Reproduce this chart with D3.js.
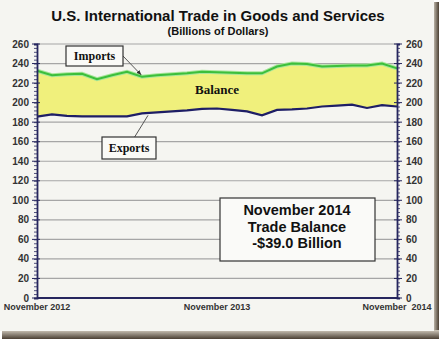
<!DOCTYPE html>
<html><head><meta charset="utf-8">
<script src="https://cdn.jsdelivr.net/npm/d3@7"></script>
<style>body{margin:0;background:#fff}svg{display:block}</style>
</head><body><svg id="c" width="439" height="339"></svg>
<script>
const months = ["2012-11","2012-12","2013-01","2013-02","2013-03","2013-04","2013-05","2013-06","2013-07","2013-08","2013-09","2013-10","2013-11","2013-12","2014-01","2014-02","2014-03","2014-04","2014-05","2014-06","2014-07","2014-08","2014-09","2014-10","2014-11"];
const imports = [232.6,228,229,229.5,224,228,231.5,226.5,228,229,230,231.5,231,230.5,230,230,237,240,239.5,237,237.5,238,238,240,235];
const exports_ = [185.6,188,186.5,186,186,186,186,189,190,191,192,193.5,194,192.5,191,187,192.5,193,194,196,197,198,194.5,197.5,196];
const yTicks = [0,20,40,60,80,100,120,140,160,180,200,220,240,260];
const xLabels = [{i:0,t:"November 2012"},{i:12,t:"November 2013"},{i:24,t:"November  2014"}];
const title = "U.S. International Trade in Goods and Services";
const subtitle = "(Billions of Dollars)";
const infoLines = ["November 2014","Trade Balance","-$39.0 Billion"];

const svg = d3.select("#c");
const W=439,H=339;
const defs = svg.append("defs");
const gr = defs.append("linearGradient").attr("id","sr").attr("x1",0).attr("x2",1).attr("y1",0).attr("y2",0);
gr.append("stop").attr("offset",0).attr("stop-color","#cfc8bb");
gr.append("stop").attr("offset",1).attr("stop-color","#4a3f33");
const gb = defs.append("linearGradient").attr("id","sb").attr("x1",0).attr("x2",0).attr("y1",0).attr("y2",1);
gb.append("stop").attr("offset",0).attr("stop-color","#cfc8bb");
gb.append("stop").attr("offset",1).attr("stop-color","#4a3f33");

svg.append("rect").attr("width",W).attr("height",H).attr("fill","#ffffff");
svg.append("rect").attr("x",433).attr("y",2).attr("width",6).attr("height",H).attr("fill","url(#sr)");
svg.append("rect").attr("x",2).attr("y",330).attr("width",W).attr("height",9).attr("fill","url(#sb)");
svg.append("rect").attr("width",434).attr("height",331).attr("fill","#f5f5f1");

const x = d3.scaleLinear().domain([0,months.length-1]).range([37,397]);
const y = d3.scaleLinear().domain([0,260]).range([298,44]);

// grid
svg.append("g").selectAll("line").data(yTicks.filter(d=>d>0)).join("line")
  .attr("x1",37).attr("x2",397).attr("y1",d=>y(d)).attr("y2",d=>y(d))
  .attr("stroke","#a6a6a6").attr("stroke-width",1.2);

// area
const idx = d3.range(months.length);
svg.append("path").datum(idx)
  .attr("d",d3.area().x(i=>x(i)).y0(i=>y(exports_[i])).y1(i=>y(imports[i])))
  .attr("fill","#f0f07c");
svg.append("path").datum(idx)
  .attr("d",d3.line().x(i=>x(i)).y(i=>y(imports[i])))
  .attr("fill","none").attr("stroke","#a8e69a").attr("stroke-width",4);
svg.append("path").datum(idx)
  .attr("d",d3.line().x(i=>x(i)).y(i=>y(imports[i])))
  .attr("fill","none").attr("stroke","#3cbf3c").attr("stroke-width",2);
svg.append("path").datum(idx)
  .attr("d",d3.line().x(i=>x(i)).y(i=>y(exports_[i])))
  .attr("fill","none").attr("stroke","#1e1e66").attr("stroke-width",2.2);

// axes
const navy="#26265e";
const minor = d3.range(0,261,4);
const axL = d3.axisLeft(y).tickValues(minor).tickSize(3).tickFormat("");
const axR = d3.axisRight(y).tickValues(minor).tickSize(3).tickFormat("");
const gL = svg.append("g").attr("transform","translate(37,0)").call(axL);
const gR = svg.append("g").attr("transform","translate(397,0)").call(axR);
[gL,gR].forEach(g=>{g.selectAll("line").attr("stroke",navy).attr("stroke-width",0.8);g.select(".domain").attr("stroke",navy).attr("stroke-width",1.8);});
// major ticks
svg.append("g").selectAll("line").data(yTicks).join("line")
  .attr("x1",32).attr("x2",40).attr("y1",d=>y(d)).attr("y2",d=>y(d)).attr("stroke",navy).attr("stroke-width",1);
svg.append("g").selectAll("line").data(yTicks).join("line")
  .attr("x1",394).attr("x2",402).attr("y1",d=>y(d)).attr("y2",d=>y(d)).attr("stroke",navy).attr("stroke-width",1);
svg.append("line").attr("x1",37).attr("x2",397).attr("y1",y(0)).attr("y2",y(0)).attr("stroke",navy).attr("stroke-width",2);

const lf = "'Liberation Sans', Arial, sans-serif";
svg.append("g").selectAll("text").data(yTicks).join("text")
  .attr("x",29).attr("y",d=>y(d)+3.5).attr("text-anchor","end")
  .attr("font-family",lf).attr("font-weight","bold").attr("font-size",10).attr("fill","#333")
  .text(d=>d);
svg.append("g").selectAll("text").data(yTicks).join("text")
  .attr("x",406).attr("y",d=>y(d)+3.5).attr("text-anchor","start")
  .attr("font-family",lf).attr("font-weight","bold").attr("font-size",10).attr("fill","#333")
  .text(d=>d);
svg.append("g").selectAll("text").data(xLabels).join("text")
  .attr("x",d=>x(d.i)).attr("y",310).attr("text-anchor","middle").style("white-space","pre")
  .attr("font-family",lf).attr("font-weight","bold").attr("font-size",9).attr("fill","#333")
  .text(d=>d.t);

// titles
svg.append("text").attr("x",218).attr("y",21).attr("text-anchor","middle")
  .attr("font-family",lf).attr("font-weight","bold").attr("font-size",15).attr("fill","#111").text(title);
svg.append("text").attr("x",218).attr("y",35).attr("text-anchor","middle")
  .attr("font-family",lf).attr("font-weight","bold").attr("font-size",11).attr("fill","#111").text(subtitle);

// labels
const sf = "'Liberation Serif', 'Times New Roman', serif";
function box(x0,y0,w,h,t){
  svg.append("rect").attr("x",x0).attr("y",y0).attr("width",w).attr("height",h)
    .attr("fill","#fafaf7").attr("stroke","#333").attr("stroke-width",1.2);
  svg.append("text").attr("x",x0+w/2).attr("y",y0+h/2+4).attr("text-anchor","middle")
    .attr("font-family",sf).attr("font-weight","bold").attr("font-size",12).attr("fill","#111").text(t);
}
defs.append("marker").attr("id","ah").attr("viewBox","0 0 10 10").attr("refX",9).attr("refY",5)
  .attr("markerWidth",5).attr("markerHeight",5).attr("orient","auto")
  .append("path").attr("d","M0,1L10,5L0,9z").attr("fill","#333");
svg.append("line").attr("x1",123).attr("y1",56).attr("x2",141).attr("y2",x && y(imports[7])-2)
  .attr("stroke","#555").attr("stroke-width",1).attr("marker-end","url(#ah)");
svg.append("line").attr("x1",134).attr("y1",138).attr("x2",148).attr("y2",y(exports_[7])+2)
  .attr("stroke","#555").attr("stroke-width",1);
box(66,46,57,20,"Imports");
box(102,137,54,22,"Exports");
svg.append("text").attr("x",217).attr("y",94).attr("text-anchor","middle")
  .attr("font-family",sf).attr("font-weight","bold").attr("font-size",13).attr("fill","#111").text("Balance");

// info box
svg.append("rect").attr("x",220).attr("y",198).attr("width",155).attr("height",63)
  .attr("fill","#fafaf8").attr("stroke","#333").attr("stroke-width",1.2);
svg.append("g").selectAll("text").data(infoLines).join("text")
  .attr("x",297).attr("y",(d,i)=>215+i*16.5).attr("text-anchor","middle")
  .attr("font-family",lf).attr("font-weight","bold").attr("font-size",14.5).attr("fill","#111").text(d=>d);
</script></body></html>
